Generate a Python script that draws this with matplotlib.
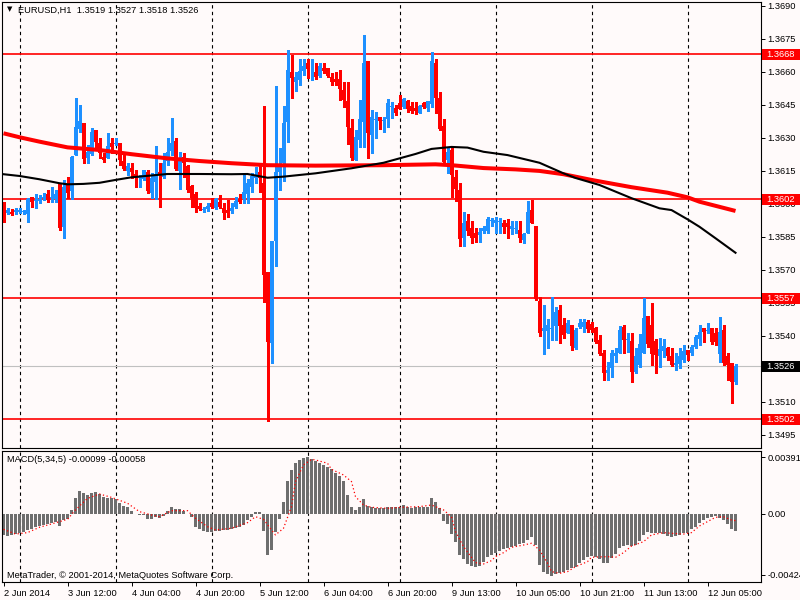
import matplotlib
matplotlib.use("Agg")
import matplotlib.pyplot as plt
from matplotlib.patches import Rectangle
import numpy as np

# EURUSD H1 bars, 2 Jun 2014 20:00 .. 12 Jun 2014 12:00
opens = [
    1.35986, 1.35959, 1.35962, 1.35961, 1.35961, 1.35964, 1.35953, 1.36029, 1.36015, 1.36011,
    1.36026, 1.36044, 1.36027, 1.36020, 1.36090, 1.35895, 1.36093, 1.36059, 1.36221, 1.36338,
    1.36365, 1.36206, 1.36224, 1.36335, 1.36274, 1.36214, 1.36209, 1.36277, 1.36274, 1.36277,
    1.36194, 1.36150, 1.36161, 1.36135, 1.36115, 1.36111, 1.36146, 1.36050, 1.36100, 1.36146,
    1.36120, 1.36196, 1.36239, 1.36286, 1.36148, 1.36211, 1.36171, 1.36080, 1.36044, 1.35990,
    1.35971, 1.35974, 1.36002, 1.35979, 1.36009, 1.35979, 1.35971, 1.35968, 1.35986, 1.36020,
    1.36020, 1.36042, 1.36077, 1.36115, 1.36144, 1.36093, 1.35688, 1.35367, 1.35830, 1.36144,
    1.36183, 1.36373, 1.36597, 1.36555, 1.36562, 1.36605, 1.36641, 1.36606, 1.36600, 1.36580,
    1.36618, 1.36615, 1.36577, 1.36567, 1.36567, 1.36517, 1.36468, 1.36342, 1.36199, 1.36289,
    1.36373, 1.36648, 1.36312, 1.36383, 1.36392, 1.36376, 1.36383, 1.36441, 1.36433, 1.36459,
    1.36441, 1.36468, 1.36444, 1.36436, 1.36414, 1.36456, 1.36433, 1.36453, 1.36641, 1.36479,
    1.36353, 1.36199, 1.36244, 1.36120, 1.36062, 1.35845, 1.35921, 1.35891, 1.35865, 1.35858,
    1.35876, 1.35876, 1.35921, 1.35911, 1.35917, 1.35911, 1.35911, 1.35883, 1.35887, 1.35880,
    1.35835, 1.35868, 1.35971, 1.35899, 1.35558, 1.35423, 1.35423, 1.35432, 1.35443, 1.35518,
    1.35448, 1.35414, 1.35448, 1.35342, 1.35441, 1.35441, 1.35464, 1.35453, 1.35433, 1.35380,
    1.35323, 1.35229, 1.35252, 1.35308, 1.35323, 1.35438, 1.35382, 1.35376, 1.35236, 1.35267,
    1.35323, 1.35490, 1.35448, 1.35376, 1.35308, 1.35332, 1.35342, 1.35308, 1.35267, 1.35271,
    1.35290, 1.35335, 1.35320, 1.35350, 1.35383, 1.35433, 1.35421, 1.35433, 1.35410, 1.35317,
    1.35426, 1.35308, 1.35277, 1.35190]
highs = [
    1.36009, 1.35979, 1.35976, 1.35979, 1.35979, 1.35970, 1.36024, 1.36032, 1.36044, 1.36040,
    1.36047, 1.36062, 1.36077, 1.36062, 1.36093, 1.36108, 1.36123, 1.36217, 1.36479, 1.36449,
    1.36368, 1.36267, 1.36342, 1.36335, 1.36297, 1.36229, 1.36320, 1.36297, 1.36297, 1.36277,
    1.36229, 1.36183, 1.36187, 1.36153, 1.36130, 1.36153, 1.36153, 1.36138, 1.36262, 1.36187,
    1.36229, 1.36297, 1.36388, 1.36297, 1.36236, 1.36229, 1.36176, 1.36085, 1.36055, 1.36002,
    1.35986, 1.36002, 1.36025, 1.36025, 1.36039, 1.36002, 1.36017, 1.36002, 1.36032, 1.36044,
    1.36138, 1.36111, 1.36138, 1.36168, 1.36183, 1.36444, 1.35688, 1.35830, 1.36535, 1.36255,
    1.36444, 1.36699, 1.36676, 1.36600, 1.36656, 1.36656, 1.36656, 1.36656, 1.36638, 1.36638,
    1.36638, 1.36615, 1.36592, 1.36600, 1.36608, 1.36555, 1.36555, 1.36383, 1.36335, 1.36471,
    1.36767, 1.36648, 1.36426, 1.36418, 1.36392, 1.36392, 1.36474, 1.36464, 1.36448, 1.36494,
    1.36479, 1.36471, 1.36464, 1.36464, 1.36449, 1.36464, 1.36467, 1.36688, 1.36656, 1.36509,
    1.36383, 1.36259, 1.36259, 1.36155, 1.36093, 1.35964, 1.35953, 1.35921, 1.35888, 1.35888,
    1.35899, 1.35941, 1.35936, 1.35941, 1.35936, 1.35926, 1.35929, 1.35921, 1.35921, 1.35921,
    1.35865, 1.36012, 1.36017, 1.35899, 1.35577, 1.35539, 1.35474, 1.35577, 1.35532, 1.35539,
    1.35480, 1.35471, 1.35448, 1.35433, 1.35474, 1.35474, 1.35471, 1.35464, 1.35441, 1.35403,
    1.35335, 1.35282, 1.35335, 1.35342, 1.35444, 1.35448, 1.35411, 1.35411, 1.35342, 1.35408,
    1.35570, 1.35490, 1.35547, 1.35383, 1.35388, 1.35383, 1.35350, 1.35342, 1.35320, 1.35342,
    1.35358, 1.35335, 1.35358, 1.35403, 1.35448, 1.35433, 1.35456, 1.35433, 1.35433, 1.35486,
    1.35448, 1.35323, 1.35277, 1.35270]
lows = [
    1.35918, 1.35952, 1.35949, 1.35953, 1.35956, 1.35953, 1.35918, 1.35983, 1.35979, 1.36005,
    1.36017, 1.36009, 1.36009, 1.36009, 1.35881, 1.35846, 1.36024, 1.36020, 1.36221, 1.36327,
    1.36187, 1.36183, 1.36221, 1.36259, 1.36206, 1.36191, 1.36206, 1.36229, 1.36267, 1.36176,
    1.36153, 1.36130, 1.36115, 1.36077, 1.36077, 1.36108, 1.36047, 1.36024, 1.36020, 1.35986,
    1.36115, 1.36176, 1.36221, 1.36153, 1.36065, 1.36120, 1.36055, 1.35986, 1.35960, 1.35971,
    1.35964, 1.35968, 1.35979, 1.35974, 1.35979, 1.35929, 1.35941, 1.35959, 1.35979, 1.36002,
    1.36002, 1.36002, 1.36055, 1.36093, 1.36055, 1.35555, 1.35014, 1.35274, 1.35718, 1.36060,
    1.36105, 1.36282, 1.36482, 1.36512, 1.36539, 1.36585, 1.36570, 1.36562, 1.36565, 1.36577,
    1.36592, 1.36577, 1.36540, 1.36540, 1.36471, 1.36441, 1.36271, 1.36199, 1.36199, 1.36259,
    1.36259, 1.36209, 1.36232, 1.36300, 1.36338, 1.36327, 1.36350, 1.36388, 1.36403, 1.36430,
    1.36433, 1.36418, 1.36414, 1.36408, 1.36411, 1.36433, 1.36423, 1.36438, 1.36414, 1.36335,
    1.36191, 1.36138, 1.36029, 1.36010, 1.35808, 1.35808, 1.35858, 1.35823, 1.35827, 1.35827,
    1.35865, 1.35868, 1.35899, 1.35868, 1.35865, 1.35865, 1.35845, 1.35861, 1.35868, 1.35827,
    1.35820, 1.35865, 1.35911, 1.35562, 1.35398, 1.35315, 1.35342, 1.35380, 1.35380, 1.35365,
    1.35390, 1.35411, 1.35335, 1.35338, 1.35433, 1.35418, 1.35418, 1.35418, 1.35365, 1.35312,
    1.35199, 1.35199, 1.35211, 1.35282, 1.35320, 1.35323, 1.35327, 1.35191, 1.35229, 1.35259,
    1.35320, 1.35350, 1.35267, 1.35232, 1.35256, 1.35305, 1.35290, 1.35262, 1.35244, 1.35252,
    1.35282, 1.35290, 1.35312, 1.35342, 1.35358, 1.35373, 1.35411, 1.35362, 1.35358, 1.35282,
    1.35267, 1.35199, 1.35093, 1.35180]
closes = [
    1.35953, 1.35971, 1.35952, 1.35971, 1.35970, 1.35965, 1.36020, 1.36009, 1.36018, 1.36021,
    1.36029, 1.36017, 1.36030, 1.36044, 1.35888, 1.36077, 1.36050, 1.36214, 1.36350, 1.36376,
    1.36202, 1.36236, 1.36327, 1.36282, 1.36229, 1.36199, 1.36262, 1.36259, 1.36276, 1.36199,
    1.36156, 1.36171, 1.36143, 1.36120, 1.36123, 1.36153, 1.36059, 1.36115, 1.36133, 1.36130,
    1.36187, 1.36236, 1.36277, 1.36156, 1.36206, 1.36187, 1.36062, 1.36024, 1.35979, 1.35976,
    1.35974, 1.35990, 1.35986, 1.36020, 1.35986, 1.35959, 1.35959, 1.35982, 1.36012, 1.36009,
    1.36055, 1.36096, 1.36126, 1.36126, 1.36118, 1.35676, 1.35373, 1.35830, 1.36144, 1.36171,
    1.36365, 1.36608, 1.36573, 1.36577, 1.36605, 1.36626, 1.36612, 1.36609, 1.36574, 1.36626,
    1.36605, 1.36580, 1.36552, 1.36553, 1.36521, 1.36471, 1.36350, 1.36206, 1.36302, 1.36383,
    1.36641, 1.36323, 1.36392, 1.36385, 1.36377, 1.36377, 1.36456, 1.36442, 1.36414, 1.36430,
    1.36474, 1.36429, 1.36421, 1.36421, 1.36444, 1.36441, 1.36467, 1.36648, 1.36479, 1.36339,
    1.36191, 1.36237, 1.36130, 1.36068, 1.35838, 1.35914, 1.35877, 1.35845, 1.35842, 1.35873,
    1.35891, 1.35931, 1.35923, 1.35926, 1.35920, 1.35896, 1.35896, 1.35899, 1.35889, 1.35845,
    1.35861, 1.35964, 1.35911, 1.35565, 1.35414, 1.35435, 1.35448, 1.35435, 1.35509, 1.35445,
    1.35405, 1.35456, 1.35355, 1.35426, 1.35456, 1.35464, 1.35431, 1.35426, 1.35370, 1.35317,
    1.35229, 1.35244, 1.35323, 1.35320, 1.35426, 1.35380, 1.35385, 1.35233, 1.35308, 1.35362,
    1.35479, 1.35362, 1.35317, 1.35312, 1.35338, 1.35355, 1.35308, 1.35267, 1.35274, 1.35308,
    1.35329, 1.35312, 1.35350, 1.35396, 1.35418, 1.35418, 1.35424, 1.35373, 1.35373, 1.35418,
    1.35274, 1.35267, 1.35191, 1.35260]

red_ma_bars = [0, 4, 9, 16, 24, 32, 41, 49, 57, 66, 78, 95, 108, 112, 120, 128, 134, 140,
               147, 157, 166, 171, 174, 183]
red_ma = [1.36320, 1.36302, 1.36282, 1.36256, 1.36244, 1.36225, 1.36206, 1.36194, 1.36184,
          1.36175, 1.36173, 1.36175, 1.36179, 1.36175, 1.36162, 1.36156, 1.36149, 1.36134,
          1.36108, 1.36075, 1.36050, 1.36029, 1.36009, 1.35967]
black_ma_bars = [0, 4, 9, 14, 16, 20, 24, 28, 32, 41, 49, 57, 61, 66, 70, 78, 87, 95, 103,
                 107, 112, 116, 120, 126, 134, 140, 143, 149, 157, 164, 167, 171, 174, 178, 183]
black_ma = [1.36134, 1.36126, 1.36111, 1.36093, 1.36088, 1.36090, 1.36095, 1.36108, 1.36120,
            1.36135, 1.36135, 1.36134, 1.36135, 1.36118, 1.36123, 1.36138, 1.36161, 1.36186,
            1.36226, 1.36249, 1.36258, 1.36255, 1.36236, 1.36221, 1.36186, 1.36138, 1.36117,
            1.36085, 1.36025, 1.35979, 1.35971, 1.35929, 1.35895, 1.35843, 1.35777]

# MACD(5,34,5)
macd_hist = [
    -0.00147, -0.00152, -0.00147, -0.00141, -0.00136, -0.00124, -0.00113, -0.00108, -0.00094, -0.00085,
    -0.00078, -0.00071, -0.00062, -0.00055, -0.00085, -0.00044, -0.00039, 0.00026, 0.00106, 0.00157,
    0.00141, 0.00129, 0.00146, 0.00153, 0.00136, 0.00113, 0.00106, 0.00106, 0.00099, 0.00076,
    0.00053, 0.00044, 0.00021, -0.00004, -0.00009, -0.00009, -0.00039, -0.00039, -0.00025, -0.00027,
    -0.00016, 0.00021, 0.00044, 0.00030, 0.00030, 0.00021, -0.00002, -0.00021, -0.00094, -0.00108,
    -0.00117, -0.00124, -0.00124, -0.00117, -0.00117, -0.00113, -0.00113, -0.00108, -0.00101, -0.00094,
    -0.00078, -0.00044, -0.00021, 0.00012, 0.00012, -0.00117, -0.00286, -0.00251, -0.00124, -0.00039,
    0.00083, 0.00226, 0.00303, 0.00349, 0.00372, 0.00388, 0.00395, 0.00376, 0.00367, 0.00353,
    0.00337, 0.00321, 0.00307, 0.00284, 0.00261, 0.00226, 0.00129, 0.00044, 0.00026, 0.00044,
    0.00099, 0.00053, 0.00044, 0.00037, 0.00037, 0.00037, 0.00044, 0.00044, 0.00044, 0.00044,
    0.00060, 0.00044, 0.00037, 0.00044, 0.00044, 0.00044, 0.00044, 0.00106, 0.00083, 0.00037,
    -0.00048, -0.00071, -0.00141, -0.00194, -0.00286, -0.00316, -0.00348, -0.00362, -0.00367, -0.00362,
    -0.00332, -0.00302, -0.00286, -0.00270, -0.00256, -0.00247, -0.00240, -0.00228, -0.00224, -0.00210,
    -0.00201, -0.00182, -0.00164, -0.00217, -0.00355, -0.00401, -0.00417, -0.00431, -0.00417, -0.00413,
    -0.00401, -0.00390, -0.00378, -0.00367, -0.00343, -0.00320, -0.00302, -0.00293, -0.00297, -0.00316,
    -0.00339, -0.00339, -0.00309, -0.00279, -0.00240, -0.00224, -0.00217, -0.00224, -0.00217, -0.00187,
    -0.00147, -0.00124, -0.00131, -0.00131, -0.00136, -0.00141, -0.00154, -0.00159, -0.00154, -0.00147,
    -0.00136, -0.00131, -0.00108, -0.00094, -0.00062, -0.00044, -0.00032, -0.00021, -0.00016, -0.00027,
    -0.00044, -0.00071, -0.00108, -0.00117]
signal_bars = [0, 3, 6, 9, 12, 16, 18, 21, 24, 27, 31, 34, 37, 39, 42, 46, 48, 51, 53, 57,
               61, 63, 65, 67, 68, 70, 72, 73, 75, 77, 78, 81, 82, 85, 87, 88, 90, 92, 96, 99,
               104, 107, 110, 112, 113, 115, 117, 118, 120, 122, 123, 125, 127, 130, 132, 134,
               136, 137, 139, 141, 143, 146, 147, 151, 153, 155, 157, 160, 162, 165, 167, 170,
               172, 174, 176, 178, 180, 182, 183]
signal = [-0.00108, -0.00141, -0.00131, -0.00094, -0.00071, -0.00039, 0.00026, 0.00106, 0.00136, 0.00113,
          0.00072, 0.00014, -0.00009, -0.00021, 0.00021, 0.00021, -0.00032, -0.00090, -0.00113, -0.00101,
          -0.00062, -0.00021, -0.00039, -0.00113, -0.00147, -0.00101, 0.00049, 0.00222, 0.00337, 0.00376,
          0.00372, 0.00349, 0.00307, 0.00268, 0.00222, 0.00118, 0.00060, 0.00044, 0.00037, 0.00044,
          0.00049, 0.00060, 0.00026, -0.00021, -0.00124, -0.00228, -0.00302, -0.00339, -0.00348, -0.00325,
          -0.00297, -0.00270, -0.00233, -0.00217, -0.00205, -0.00251, -0.00343, -0.00401, -0.00413, -0.00401,
          -0.00367, -0.00332, -0.00302, -0.00297, -0.00302, -0.00270, -0.00224, -0.00194, -0.00147, -0.00131,
          -0.00136, -0.00141, -0.00131, -0.00085, -0.00055, -0.00025, -0.00021, -0.00044, -0.00048]

levels = [1.3668, 1.3602, 1.3557, 1.3502]
last_price = 1.3526
price_ticks = [1.3690, 1.3675, 1.3660, 1.3645, 1.3630, 1.3615, 1.3600, 1.3585, 1.3570,
               1.3555, 1.3540, 1.3525, 1.3510, 1.3495]
macd_ticks = [0.00391, 0.0, -0.00424]
macd_tick_labels = ['0.00391', '0.00', '-0.00424']
time_tick_bars = [0, 16, 32, 48, 64, 80, 96, 112, 128, 144, 160, 176]
time_labels = ['2 Jun 2014', '3 Jun 12:00', '4 Jun 04:00', '4 Jun 20:00', '5 Jun 12:00',
               '6 Jun 04:00', '6 Jun 20:00', '9 Jun 13:00', '10 Jun 05:00', '10 Jun 21:00',
               '11 Jun 13:00', '12 Jun 05:00']
day_sep_bars = [4, 28, 52, 76, 99, 123, 147, 171]

bg = '#fffafa'
bull = '#1e90ff'
bear = '#ff0000'
plt.rcParams['font.family'] = ['Liberation Sans', 'DejaVu Sans']
plt.rcParams['font.size'] = 6.7

W, H = 800, 600
fig = plt.figure(figsize=(8, 6), dpi=100, facecolor=bg)
ax = fig.add_axes([2 / W, 1 - 448 / H, 759 / W, 446 / H], facecolor=bg)
mx = fig.add_axes([2 / W, 1 - 582.3 / H, 759 / W, 131.6 / H], facecolor=bg)

o = np.array(opens)
hi = np.array(highs)
lo = np.array(lows)
c = np.array(closes)
idx = np.arange(len(o))
cols = np.where(c >= o, bull, bear)

# candles
ax.vlines(idx, lo, hi, colors=cols, lw=0.75, zorder=2, antialiased=False)
body = np.maximum(np.abs(c - o), 0.00004)
mid = (o + c) / 2
ax.bar(idx, body, bottom=mid - body / 2, width=0.75, color=cols, lw=0, zorder=2,
       antialiased=False)

ax.plot(red_ma_bars, red_ma, color='red', lw=2.9, zorder=3, solid_capstyle='butt')
ax.plot(black_ma_bars, black_ma, color='black', lw=1.5, zorder=3)

for lv in levels:
    ax.axhline(lv, color='red', lw=1.2, zorder=1)
ax.axhline(last_price, color='#c0c0c0', lw=0.8, zorder=1)

for a in (ax, mx):
    for b in day_sep_bars:
        a.axvline(b, color='black', lw=0.8, ls=(0, (3, 3)), zorder=0.5)
    a.set_xlim(-0.375, 189.375)
    for s in a.spines.values():
        s.set_color('black')
        s.set_linewidth(0.8)

ax.set_ylim(1.348895, 1.369168)
ax.set_xticks([])
ax.yaxis.tick_right()
ax.set_yticks(price_ticks)
ax.set_yticklabels(['%.4f' % p for p in price_ticks])
ax.tick_params(axis='y', length=3, width=0.7, pad=1.5)

# price boxes on the right scale
ytr = ax.get_yaxis_transform()
for lv, fc in [(l, 'red') for l in levels] + [(last_price, 'black')]:
    ax.add_patch(Rectangle((1.001, lv - 0.00025), 39 / 759, 0.0005, transform=ytr,
                           facecolor=fc, edgecolor='none', clip_on=False, zorder=5))
    ax.text(1.007, lv, '%.4f' % lv, transform=ytr, color='white', va='center',
            ha='left', clip_on=False, zorder=6)

# MACD panel
mx.bar(idx, macd_hist, width=0.75, color='#6e6e6e', lw=0, antialiased=False)
mx.plot(signal_bars, signal, color='red', lw=0.9, ls=(0, (1, 2)))
mx.set_ylim(-0.00475, 0.00436)
mx.yaxis.tick_right()
mx.set_yticks(macd_ticks)
mx.set_yticklabels(macd_tick_labels)
mx.tick_params(axis='y', length=3, width=0.7, pad=1.5)
mx.set_xticks(time_tick_bars)
mx.set_xticklabels(time_labels)
for t in mx.get_xticklabels():
    t.set_ha('left')
mx.tick_params(axis='x', length=3, width=0.7, pad=2)

fig.text(7 / W, 1 - 9 / H, '\u25bc', fontsize=5, va='center', ha='left',
         family='DejaVu Sans')
fig.text(18 / W, 1 - 10 / H, 'EURUSD,H1  1.3519 1.3527 1.3518 1.3526', va='center', ha='left')
fig.text(7 / W, 1 - 460 / H, 'MACD(5,34,5) -0.00099 -0.00058', va='center', ha='left')
fig.text(7 / W, 1 - 575 / H, 'MetaTrader, \u00a9 2001-2014, MetaQuotes Software Corp.',
         va='center', ha='left')

fig.savefig('out.png', dpi=100, facecolor=bg)
